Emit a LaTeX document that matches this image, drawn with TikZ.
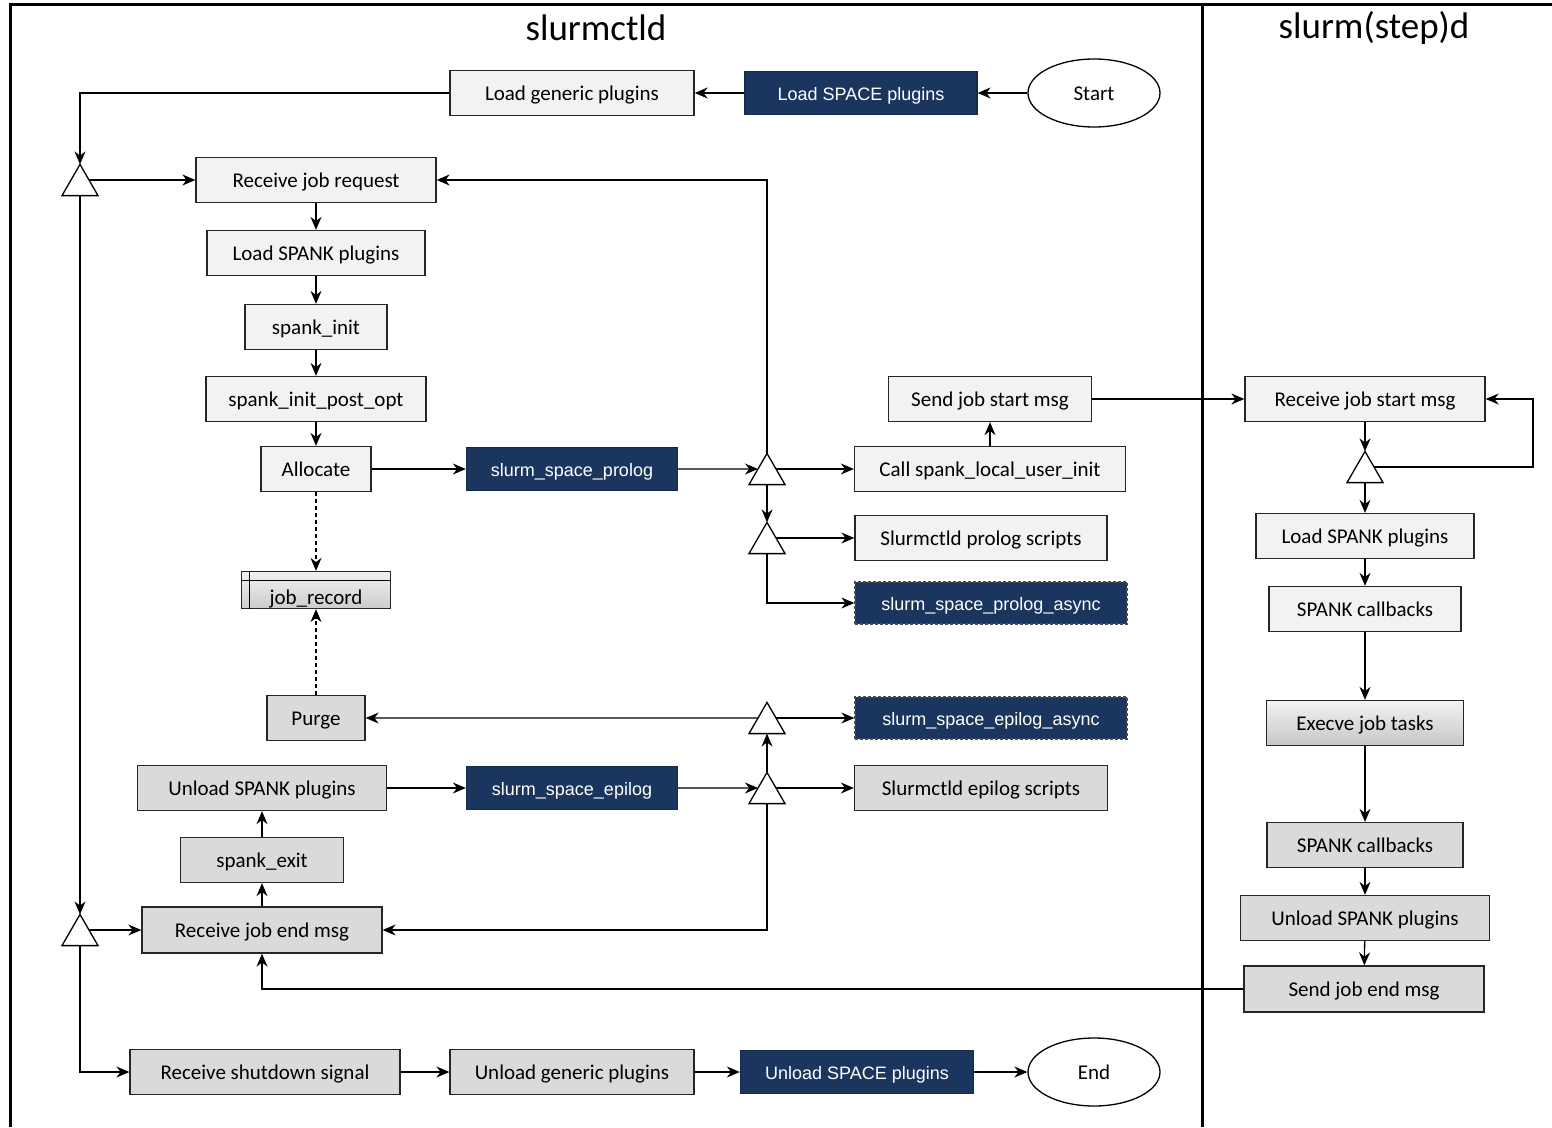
\documentclass[tikz,border=0pt]{standalone}
\usepackage{fontspec}
\setmainfont{Carlito}
\newfontfamily\helv{Liberation Sans}
\usepackage{tikz}
\usetikzlibrary{arrows.meta}
\usetikzlibrary{positioning, shapes.geometric}

\definecolor{boxlight}{HTML}{F2F2F2}
\definecolor{boxdark}{HTML}{DADADA}
\definecolor{spacenavy}{HTML}{1B365E}

\begin{document}
\begin{tikzpicture}[x=1pt,y=-1pt,
	>={Stealth[length=13pt,width=11pt]},
	flow/.style={line width=1.3pt,->},
	box/.style={draw=black!85,line width=1.3pt,fill=boxlight,inner sep=0pt,
		minimum height=45pt,text height=16pt,text depth=1pt,
		font=\fontsize{21}{24}\selectfont},
	darkbox/.style={box,fill=boxdark},
	spacebox/.style={box,draw=spacenavy!80!black,fill=spacenavy,text=white,
		minimum height=43pt,text height=14pt,text depth=0pt,
		font=\helv\fontsize{18}{21}\selectfont},
	asyncbox/.style={spacebox,draw=black!70,dash pattern=on 3pt off 2pt,minimum height=42pt},
	term/.style={ellipse,draw,line width=1.3pt,fill=white,minimum width=132pt,
		minimum height=68pt,inner sep=0pt,text height=16pt,text depth=1pt,
		font=\fontsize{21}{24}\selectfont},
	tri/.style={regular polygon,regular polygon sides=3,draw,line width=1.3pt,
		fill=white,inner sep=0pt,outer sep=0pt,minimum size=41.6pt,yshift=-5.2pt},
	record/.style={dash pattern=on 4pt off 3pt,line width=1.1pt},
	title/.style={font=\fontsize{37}{40}\selectfont}]
	\useasboundingbox (0,0) rectangle (1552,1127);
	% frame
	\draw[line width=3pt] (1552,4) -- (10,4) -- (10,1127);
	\draw[line width=3pt] (1202,4) -- (1202,1127);
	\node[title] (ctl) at (596,28) {slurmctld};
	\node[title] (stepd) at (1374,28) {slurm(step)d};

	% slurmctld
	\node[term] (start) at (1094,93) {Start};
	\node[spacebox,minimum width=232pt] (spaceld) at (861,93) {Load SPACE plugins};
	\node[box,minimum width=244pt] (genld) at (572,93) {Load generic plugins};
	\node[tri] (t_0) at (80,180) {};
	\node[box,minimum width=240pt] (jobreq) at (316,180) {Receive job request};
	\node[box,minimum width=218pt] (spankld) at (316,253) {Load SPANK plugins};
	\node[box,minimum width=142pt] (spinit) at (316,327) {spank\_init};
	\node[box,minimum width=220pt] (spinitpo) at (316,399) {spank\_init\_post\_opt};
	\node[box,minimum width=110pt] (alloc) at (316,469) {Allocate};
	\node[spacebox,minimum width=211pt] (prolog) at (572,469) {slurm\_space\_prolog};
	\node[tri] (t_1) at (767,469) {};
	\node[box,minimum width=271pt] (userinit) at (990,469) {Call spank\_local\_user\_init};
	\node[box,minimum width=203pt] (sendstart) at (990,399) {Send job start msg};
	\node[tri] (t_2) at (767,538) {};
	\node[box,minimum width=252pt] (prologscr) at (981,538) {Slurmctld prolog scripts};
	\node[asyncbox,minimum width=272pt] (prologasync) at (991,603) {slurm\_space\_prolog\_async};
	\node[box,minimum width=149pt,minimum height=37pt,top color=boxlight,bottom color=black!20,
		text height=10pt,text depth=0pt] (jobrec) at (316,590) {\raisebox{-9pt}{job\_record}};
	\draw[line width=1.1pt] ([yshift=-10pt]jobrec.north west) -- ([yshift=-10pt]jobrec.north east);
	\draw[line width=1.1pt] ([xshift=9pt]jobrec.north west) -- ([xshift=9pt]jobrec.south west);
	\node[darkbox,minimum width=98pt] (purge) at (316,718) {Purge};
	\node[tri] (t_3) at (767,718) {};
	\node[asyncbox,minimum width=272pt] (epilogasync) at (991,718) {slurm\_space\_epilog\_async};
	\node[darkbox,minimum width=249pt] (unspank) at (262,788) {Unload SPANK plugins};
	\node[spacebox,minimum width=211pt] (epilog) at (572,788) {slurm\_space\_epilog};
	\node[tri] (t_4) at (767,788) {};
	\node[darkbox,minimum width=253pt] (epilogscr) at (981,788) {Slurmctld epilog scripts};
	\node[darkbox,minimum width=163pt] (spexit) at (262,860) {spank\_exit};
	\node[darkbox,minimum width=240pt,minimum height=46pt] (jobend) at (262,930) {Receive job end msg};
	\node[tri] (t_5) at (80,930) {};
	\node[darkbox,minimum width=270pt] (shutdown) at (265,1072) {Receive shutdown signal};
	\node[darkbox,minimum width=244pt] (genunld) at (572,1072) {Unload generic plugins};
	\node[spacebox,minimum width=233pt] (spaceunld) at (857,1072) {Unload SPACE plugins};
	\node[term] (end) at (1094,1072) {End};

	% slurm(step)d
	\node[box,minimum width=240pt] (rcvstart) at (1365,399) {Receive job start msg};
	\node[tri] (t_6) at (1365,467) {};
	\coordinate (loopx) at (1533,0);
	\node[box,minimum width=218pt] (spankld2) at (1365,536) {Load SPANK plugins};
	\node[box,minimum width=192pt] (cb_1) at (1365,609) {SPANK callbacks};
	\node[box,minimum width=197pt,top color=boxlight,bottom color=black!22] (execve) at (1365,723) {Execve job tasks};
	\node[darkbox,minimum width=196pt] (cb_2) at (1365,845) {SPANK callbacks};
	\node[darkbox,minimum width=249pt] (unspank2) at (1365,918) {Unload SPANK plugins};
	\node[darkbox,minimum width=240pt,minimum height=46pt] (sendend) at (1364,989) {Send job end msg};

	\path[flow]
	(start) edge (spaceld)
	(spaceld) edge (genld)
	(t_0.side 3) edge (jobreq.west)
	(jobreq) edge (spankld)
	(spankld) edge (spinit)
	(spinit) edge (spinitpo)
	(spinitpo) edge (alloc)
	(alloc) edge (prolog)
	(prolog) edge (t_1.side 1)
	(t_1.side 3) edge (userinit)
	(userinit) edge (sendstart)
	(sendstart) edge (rcvstart)
	(t_1.side 2) edge (t_2.corner 1)
	(t_2.side 3) edge (prologscr.west)
	(t_3.side 1) edge (purge.east)
	(t_3.side 3) edge (epilogasync.west)
	(t_4.corner 1) edge (t_3.side 2)
	(unspank) edge (epilog)
	(epilog) edge (t_4.side 1)
	(t_4.side 3) edge (epilogscr.west)
	(spexit) edge (unspank)
	(jobend) edge (spexit)
	(t_5.side 3) edge (jobend.west)
	(t_0.side 2) edge (t_5.corner 1)
	(shutdown) edge (genunld)
	(genunld) edge (spaceunld)
	(spaceunld) edge (end)
	(rcvstart) edge (t_6.corner 1)
	(t_6.side 2) edge (spankld2)
	(spankld2) edge (cb_1)
	(cb_1) edge (execve)
	(execve) edge (cb_2)
	(cb_2) edge (unspank2)
	(unspank2) edge (sendend);

	\draw[flow] (genld.west) -| (t_0.corner 1);
	\draw[flow] (t_1.corner 1) |- (jobreq.east);
	\draw[flow] (t_2.side 2) |- (prologasync.west);
	\draw[flow] (t_4.side 2) |- (jobend.east);
	\draw[flow] (t_5.side 2) |- (shutdown.west);
	\draw[flow] (sendend.west) -| (jobend.south);
	\draw[flow] (t_6.side 3) -- (t_6.side 3 -| loopx) |- (rcvstart.east);
	\draw[->,record] (alloc) -- (jobrec);
	\draw[->,record] (purge) -- (jobrec);
\end{tikzpicture}
\end{document}
